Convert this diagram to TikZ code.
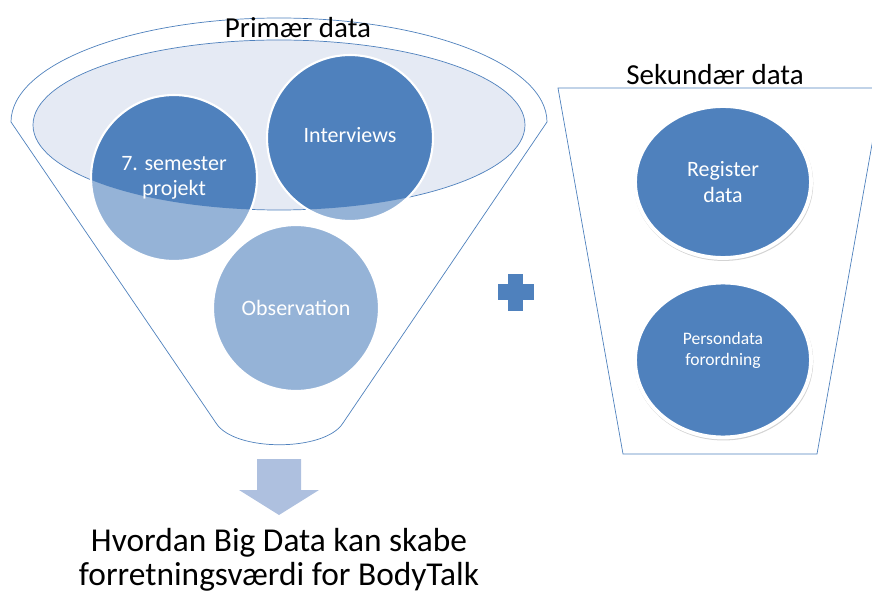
\documentclass[tikz,border=0pt]{standalone}
\usepackage{fontspec}
\setmainfont{Carlito}
\usetikzlibrary{shapes.geometric,shadows}

\definecolor{darkblue}{HTML}{4F81BD}
\definecolor{lightblue}{HTML}{95B3D7}
\definecolor{paleblue}{HTML}{E5EAF4}
\definecolor{arrowblue}{HTML}{AEC0DF}

\tikzset{
	bubble/.style={circle,inner sep=0pt,minimum size=3.32cm,draw=white,line width=1.2pt,text=white,align=center,font=\fontsize{12.5}{14.5}\selectfont},
	dataellipse/.style={ellipse,inner sep=0pt,minimum width=3.52cm,fill=darkblue,draw=white,line width=2.2pt,text=white,align=center,
		drop shadow={opacity=0.35,shadow scale=1.02,shadow xshift=0.3pt,shadow yshift=-0.8pt}},
	title/.style={anchor=base,font=\fontsize{16.5}{19}\selectfont}
}

\begin{document}
\begin{tikzpicture}[x=0.02cm,y=-0.02cm]
	\useasboundingbox (0,0) rectangle (872,594);

	% funnel
	\draw[darkblue,fill=white] (11,122) arc[start angle=180,end angle=360,x radius=268,y radius=104]
		-- (343,423) .. controls (325,452) and (234,452) .. (216,423) -- cycle;
	\draw[darkblue,fill=paleblue] (279,125) ellipse[x radius=246,y radius=85];
	\node (prim) [title] at (298,38) {Primær data};

	\coordinate (semc) at (174,178);
	\coordinate (intc) at (350,138);
	\coordinate (obsc) at (296,308);

	\fill[lightblue] (semc) circle[radius=83];
	\fill[lightblue] (intc) circle[radius=83];
	\fill[lightblue] (obsc) circle[radius=83];
	\begin{scope}
		\clip (279,125) ellipse[x radius=246,y radius=85];
		\fill[darkblue] (semc) circle[radius=83];
		\fill[darkblue] (intc) circle[radius=83];
	\end{scope}

	\node (sem) [bubble] at (semc) {7. semester\\projekt};
	\node (int) [bubble] at (intc) {};
	\node [text=white,font=\fontsize{12.5}{14.5}\selectfont] at ([yshift=1.7pt]int.center) {Interviews};
	\node (obs) [bubble] at (obsc) {Observation};

	% arrow down to the result
	\fill[arrowblue] (257,459) -- (301,459) -- (301,490) -- (319,490) -- (279,515) -- (239,490) -- (257,490) -- cycle;
	\node (goal) [anchor=base,align=center,font=\fontsize{19}{18.8}\selectfont] at (279,585)
		{Hvordan Big Data kan skabe\\forretningsværdi for BodyTalk};

	% plus
	\draw[white,line width=2pt,fill=darkblue,drop shadow={opacity=0.35,shadow xshift=0.5pt,shadow yshift=-1pt}]
		(506,272) -- (525,272) -- (525,282) -- (536,282) -- (536,302) -- (525,302) -- (525,313)
		-- (506,313) -- (506,302) -- (496,302) -- (496,282) -- (506,282) -- cycle;

	% secondary data
	\draw[darkblue] (558,88) -- (882,88) -- (817,454) -- (623,454) -- cycle;
	\node (sek) [title] at (715,85) {Sekundær data};

	\node (reg) [dataellipse,minimum height=3.04cm,font=\fontsize{12.5}{14.5}\selectfont] at (723,182) {Register\\data};
	\node (pers) [dataellipse,minimum height=3.1cm] at (723,360) {};
	\node [text=white,align=center,font=\fontsize{10}{12}\selectfont] at ([yshift=5.7pt]pers.center) {Persondata\\forordning};
\end{tikzpicture}
\end{document}
